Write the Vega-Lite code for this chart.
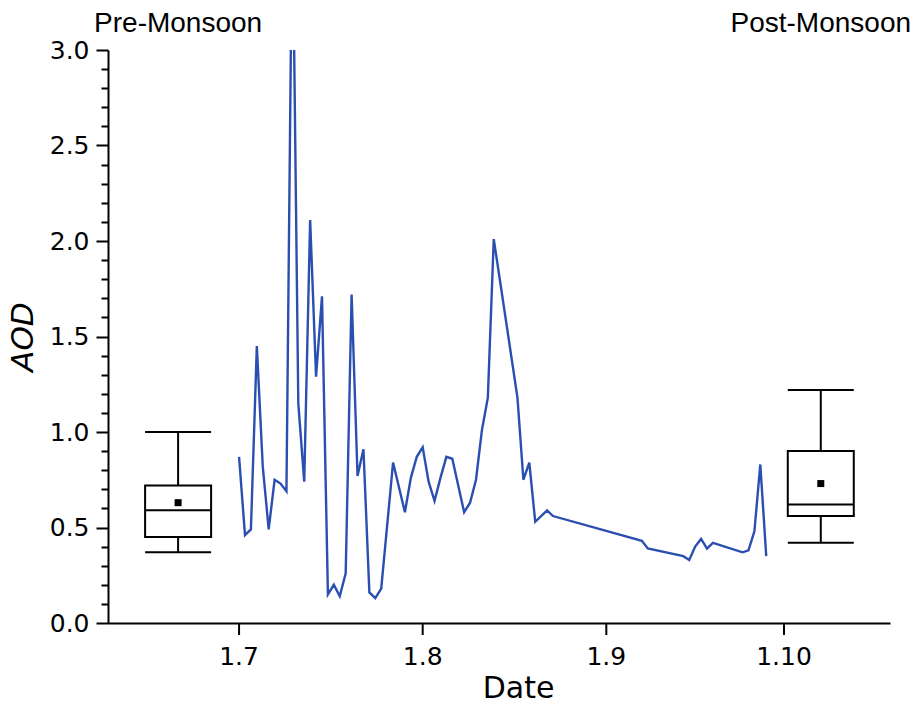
{
  "$schema": "https://vega.github.io/schema/vega-lite/v6.json",
  "width": 782,
  "height": 573,
  "autosize": {"type": "none"},
  "padding": {"left": 108, "top": 50, "right": 29, "bottom": 81},
  "background": "white",
  "config": {
    "view": {"stroke": null},
    "axis": {
      "grid": false,
      "domainColor": "black",
      "domainWidth": 2,
      "tickColor": "black",
      "tickWidth": 2,
      "tickSize": 12,
      "labelColor": "black",
      "labelFont": "DejaVu Sans",
      "labelFontSize": 25,
      "titleColor": "black",
      "titleFont": "DejaVu Sans",
      "titleFontWeight": "normal"
    }
  },
  "resolve": {"axis": {"y": "independent", "x": "independent"}},
  "datasets": {
    "aod": [
      {"date": "2019-07-01", "aod": 0.87},
      {"date": "2019-07-02", "aod": 0.46},
      {"date": "2019-07-03", "aod": 0.49},
      {"date": "2019-07-04", "aod": 1.45},
      {"date": "2019-07-05", "aod": 0.82},
      {"date": "2019-07-06", "aod": 0.49},
      {"date": "2019-07-07", "aod": 0.75},
      {"date": "2019-07-08", "aod": 0.73},
      {"date": "2019-07-09", "aod": 0.69},
      {"date": "2019-07-10", "aod": 3.8},
      {"date": "2019-07-11", "aod": 1.15},
      {"date": "2019-07-12", "aod": 0.74},
      {"date": "2019-07-13", "aod": 2.11},
      {"date": "2019-07-14", "aod": 1.29},
      {"date": "2019-07-15", "aod": 1.71},
      {"date": "2019-07-16", "aod": 0.15},
      {"date": "2019-07-17", "aod": 0.2},
      {"date": "2019-07-18", "aod": 0.14},
      {"date": "2019-07-19", "aod": 0.26},
      {"date": "2019-07-20", "aod": 1.72},
      {"date": "2019-07-21", "aod": 0.77},
      {"date": "2019-07-22", "aod": 0.91},
      {"date": "2019-07-23", "aod": 0.16},
      {"date": "2019-07-24", "aod": 0.13},
      {"date": "2019-07-25", "aod": 0.18},
      {"date": "2019-07-27", "aod": 0.84},
      {"date": "2019-07-29", "aod": 0.58},
      {"date": "2019-07-30", "aod": 0.76},
      {"date": "2019-07-31", "aod": 0.87},
      {"date": "2019-08-01", "aod": 0.92},
      {"date": "2019-08-02", "aod": 0.74},
      {"date": "2019-08-03", "aod": 0.64},
      {"date": "2019-08-04", "aod": 0.76},
      {"date": "2019-08-05", "aod": 0.87},
      {"date": "2019-08-06", "aod": 0.86},
      {"date": "2019-08-07", "aod": 0.72},
      {"date": "2019-08-08", "aod": 0.58},
      {"date": "2019-08-09", "aod": 0.63},
      {"date": "2019-08-10", "aod": 0.75},
      {"date": "2019-08-11", "aod": 1.01},
      {"date": "2019-08-12", "aod": 1.18},
      {"date": "2019-08-13", "aod": 2.01},
      {"date": "2019-08-17", "aod": 1.18},
      {"date": "2019-08-18", "aod": 0.75},
      {"date": "2019-08-19", "aod": 0.84},
      {"date": "2019-08-20", "aod": 0.53},
      {"date": "2019-08-22", "aod": 0.59},
      {"date": "2019-08-23", "aod": 0.56},
      {"date": "2019-09-07", "aod": 0.43},
      {"date": "2019-09-08", "aod": 0.39},
      {"date": "2019-09-14", "aod": 0.35},
      {"date": "2019-09-15", "aod": 0.33},
      {"date": "2019-09-16", "aod": 0.4},
      {"date": "2019-09-17", "aod": 0.44},
      {"date": "2019-09-18", "aod": 0.39},
      {"date": "2019-09-19", "aod": 0.42},
      {"date": "2019-09-24", "aod": 0.37},
      {"date": "2019-09-25", "aod": 0.38},
      {"date": "2019-09-26", "aod": 0.48},
      {"date": "2019-09-27", "aod": 0.83},
      {"date": "2019-09-28", "aod": 0.35}
    ],
    "box": [
      {"season": "Pre-Monsoon", "date": "2019-06-20T17:00:00Z", "min": 0.37, "q1": 0.45, "median": 0.59, "q3": 0.72, "max": 1.0, "mean": 0.63},
      {"season": "Post-Monsoon", "date": "2019-10-07T05:00:00Z", "min": 0.42, "q1": 0.56, "median": 0.62, "q3": 0.9, "max": 1.22, "mean": 0.73}
    ],
    "months": [
      {"date": "2019-07-01", "label": "1.7"},
      {"date": "2019-08-01", "label": "1.8"},
      {"date": "2019-09-01", "label": "1.9"},
      {"date": "2019-10-01", "label": "1.10"}
    ]
  },
  "layer": [
    {
      "data": {"name": "aod"},
      "mark": {"type": "line", "color": "#2b4fb0", "strokeWidth": 2.4, "clip": true},
      "encoding": {
        "x": {
          "field": "date",
          "type": "temporal",
          "scale": {"type": "utc", "domain": [1560100348800, 1571361120000]},
          "axis": {
            "orient": "bottom",
            "title": "Date",
            "titleFontSize": 30,
            "titleX": 410,
            "titleAlign": "center",
            "titlePadding": 50,
            "ticks": false,
            "labels": false
          }
        },
        "y": {
          "field": "aod",
          "type": "quantitative",
          "scale": {"domain": [0, 3], "nice": false},
          "axis": {
            "orient": "left",
            "title": "AOD",
            "titleFontSize": 31,
            "titleFontStyle": "italic",
            "titlePadding": 10,
            "values": [0, 0.5, 1, 1.5, 2, 2.5, 3],
            "format": ".1f",
            "tickSize": 12,
            "labelPadding": 7,
            "labelOverlap": false
          }
        }
      }
    },
    {
      "data": {"name": "months"},
      "mark": {"type": "tick", "orient": "vertical", "size": 12, "thickness": 2, "color": "black", "opacity": 1, "yOffset": 6},
      "encoding": {
        "x": {"field": "date", "type": "temporal", "axis": null},
        "y": {"datum": 0, "type": "quantitative", "axis": null}
      }
    },
    {
      "data": {"name": "months"},
      "mark": {"type": "text", "font": "DejaVu Sans", "fontSize": 25, "color": "black", "align": "center", "baseline": "top", "dy": 22},
      "encoding": {
        "x": {"field": "date", "type": "temporal", "axis": null},
        "y": {"datum": 0, "type": "quantitative", "axis": null},
        "text": {"field": "label"}
      }
    },
    {
      "data": {"name": "box"},
      "mark": {"type": "rule", "color": "black", "strokeWidth": 2},
      "encoding": {
        "x": {"field": "date", "type": "temporal", "axis": null},
        "y": {
          "field": "min",
          "type": "quantitative",
          "axis": {
            "orient": "left",
            "title": null,
            "domain": false,
            "labels": false,
            "tickSize": 7,
            "values": [0.1, 0.2, 0.3, 0.4, 0.6, 0.7, 0.8, 0.9, 1.1, 1.2, 1.3, 1.4, 1.6, 1.7, 1.8, 1.9, 2.1, 2.2, 2.3, 2.4, 2.6, 2.7, 2.8, 2.9]
          }
        },
        "y2": {"field": "max"}
      }
    },
    {
      "data": {"name": "box"},
      "mark": {"type": "bar", "width": 66, "fill": "white", "stroke": "black", "strokeWidth": 2},
      "encoding": {
        "x": {"field": "date", "type": "temporal", "axis": null},
        "y": {"field": "q1", "type": "quantitative", "axis": null},
        "y2": {"field": "q3"}
      }
    },
    {
      "data": {"name": "box"},
      "mark": {"type": "tick", "orient": "horizontal", "size": 66, "thickness": 2, "color": "black", "opacity": 1},
      "encoding": {
        "x": {"field": "date", "type": "temporal", "axis": null},
        "y": {"field": "min", "type": "quantitative", "axis": null}
      }
    },
    {
      "data": {"name": "box"},
      "mark": {"type": "tick", "orient": "horizontal", "size": 66, "thickness": 2, "color": "black", "opacity": 1},
      "encoding": {
        "x": {"field": "date", "type": "temporal", "axis": null},
        "y": {"field": "max", "type": "quantitative", "axis": null}
      }
    },
    {
      "data": {"name": "box"},
      "mark": {"type": "tick", "orient": "horizontal", "size": 66, "thickness": 2, "color": "black", "opacity": 1},
      "encoding": {
        "x": {"field": "date", "type": "temporal", "axis": null},
        "y": {"field": "median", "type": "quantitative", "axis": null}
      }
    },
    {
      "data": {"name": "box"},
      "mark": {"type": "point", "shape": "square", "size": 49, "filled": true, "color": "black", "opacity": 1},
      "encoding": {
        "x": {"field": "date", "type": "temporal", "axis": null},
        "y": {"field": "mean", "type": "quantitative", "axis": null}
      }
    },
    {
      "data": {"name": "box"},
      "mark": {"type": "text", "font": "Liberation Sans", "fontSize": 28, "color": "black", "align": "center", "baseline": "alphabetic", "dy": -18},
      "encoding": {
        "x": {"field": "date", "type": "temporal", "axis": null},
        "y": {"datum": 3, "type": "quantitative", "axis": null},
        "text": {"field": "season"}
      }
    }
  ]
}
